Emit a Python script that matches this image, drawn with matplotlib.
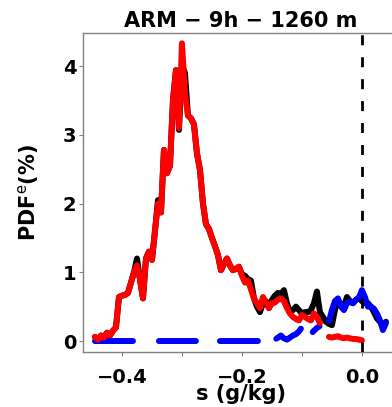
import numpy as np
import matplotlib
matplotlib.use("Agg")
import matplotlib.pyplot as plt
from matplotlib.ticker import MultipleLocator

plt.rcParams['font.family'] = ['DejaVu Sans']
plt.rcParams['mathtext.fontset'] = 'dejavusans'

# bin centres of s (g/kg)
s = np.round(-0.445 + 0.005 * np.arange(98), 3)

pdf_black = [0.06, 0.02, 0.08, 0.05, 0.12, 0.08, 0.15, 0.20, 0.64, 0.66,
             0.67, 0.70, 0.85, 1.00, 1.20, 0.90, 0.62, 1.20, 1.30, 1.18,
             1.60, 2.05, 1.87, 2.78, 2.44, 2.55, 3.50, 3.94, 3.07, 4.00,
             3.90, 3.28, 3.24, 3.15, 2.73, 2.49, 2.00, 1.70, 1.63, 1.50,
             1.38, 1.25, 1.03, 1.12, 1.20, 1.10, 1.03, 1.05, 1.08, 0.97,
             0.95, 0.90, 0.88, 0.62, 0.50, 0.42, 0.55, 0.58, 0.48, 0.60,
             0.66, 0.70, 0.68, 0.74, 0.55, 0.42, 0.45, 0.50, 0.45, 0.40,
             0.42, 0.42, 0.45, 0.55, 0.72, 0.42, 0.35, 0.28, 0.25, 0.23,
             0.45, 0.60, 0.52, 0.50, 0.64, 0.58, 0.55, 0.60, 0.63, 0.58,
             0.55, 0.55, 0.50, 0.42, 0.33, 0.28, 0.23, 0.28]

nan = np.nan
pdf_red = [0.06, 0.02, 0.08, 0.05, 0.12, 0.08, 0.15, 0.20, 0.64, 0.66,
           0.67, 0.70, 0.85, 1.00, 1.10, 0.90, 0.62, 1.20, 1.30, 1.18,
           1.60, 2.00, 1.87, 2.78, 2.44, 2.55, 3.50, 3.94, 3.10, 4.33,
           3.60, 3.28, 3.24, 3.15, 2.73, 2.49, 2.00, 1.70, 1.63, 1.50,
           1.38, 1.25, 1.03, 1.12, 1.20, 1.10, 1.03, 1.05, 1.08, 0.95,
           0.85, 0.88, 0.75, 0.62, 0.55, 0.48, 0.64, 0.56, 0.48, 0.55,
           0.56, 0.60, 0.62, 0.58, 0.48, 0.40, 0.35, 0.32, 0.30, 0.38,
           0.35, 0.32, 0.30, 0.40, 0.35, 0.26, nan, nan, 0.06, 0.05,
           0.06, 0.07, 0.05, 0.04, 0.05, 0.04, 0.03, 0.03, 0.02, 0.01,
           nan, nan, nan, nan, nan, nan, nan, nan]

pdf_blue = [0.0] * 58 + [
            0.00, 0.00, 0.02, 0.05, 0.08, 0.04, 0.02, 0.05, 0.08, 0.10,
            0.14, 0.20, 0.15, 0.12, 0.10, 0.15, 0.19, 0.22, 0.22, 0.24,
            0.28, 0.45, 0.58, 0.62, 0.50, 0.45, 0.55, 0.57, 0.55, 0.60,
            0.63, 0.74, 0.64, 0.50, 0.50, 0.47, 0.40, 0.30, 0.16, 0.26]

title = "ARM \u2212 9h \u2212 1260 m"
xlabel = "s (g/kg)"
ylabel = r"PDF$^{\mathrm{e}}$(%)"

fig = plt.figure(figsize=(3.92, 4.07), dpi=100)
ax = fig.add_axes([0.2117, 0.1351, 0.806, 0.7838])

lw = 4.3
blue_dashes = (0, (6.36, 4.35, 6.19, 4.02, 6.36, 3.18, 5.19, 2.68,
                   1.51, 2.0, 60.0, 1.0))
ax.plot(s, pdf_black, color='black', lw=lw, solid_capstyle='round',
        solid_joinstyle='round', zorder=2)
ax.plot(s, pdf_blue, color='#0000ff', lw=lw, linestyle=blue_dashes,
        dash_capstyle='round', dash_joinstyle='round', zorder=3)
ax.plot(s, pdf_red, color='#ff0000', lw=lw, solid_capstyle='round',
        solid_joinstyle='round', zorder=4)
ax.axvline(0.0, color='black', lw=2.0, linestyle=(0, (3.6, 4.3)), zorder=5)

ax.set_xlim(-0.465, 0.0617)
ax.set_ylim(-0.16, 4.48)
ax.xaxis.set_major_locator(MultipleLocator(0.2))
ax.xaxis.set_minor_locator(MultipleLocator(0.1))
ax.yaxis.set_major_locator(MultipleLocator(1))

for sp in ax.spines.values():
    sp.set_color('#808080')
    sp.set_linewidth(1.0)

ax.tick_params(axis='both', which='both', length=2.6, width=0.8,
               color='#808080', labelsize=14)
ax.tick_params(axis='x', which='major', pad=9)
ax.tick_params(axis='y', which='major', pad=2)
for lab in ax.get_xticklabels() + ax.get_yticklabels():
    lab.set_fontweight('bold')

ax.set_title(title, fontsize=15, fontweight='bold', pad=4)
ax.set_xlabel(xlabel, fontsize=15, fontweight='bold', labelpad=-2)
ax.set_ylabel(ylabel, fontsize=15, fontweight='bold', labelpad=16)

fig.savefig('out.png', dpi=100)
